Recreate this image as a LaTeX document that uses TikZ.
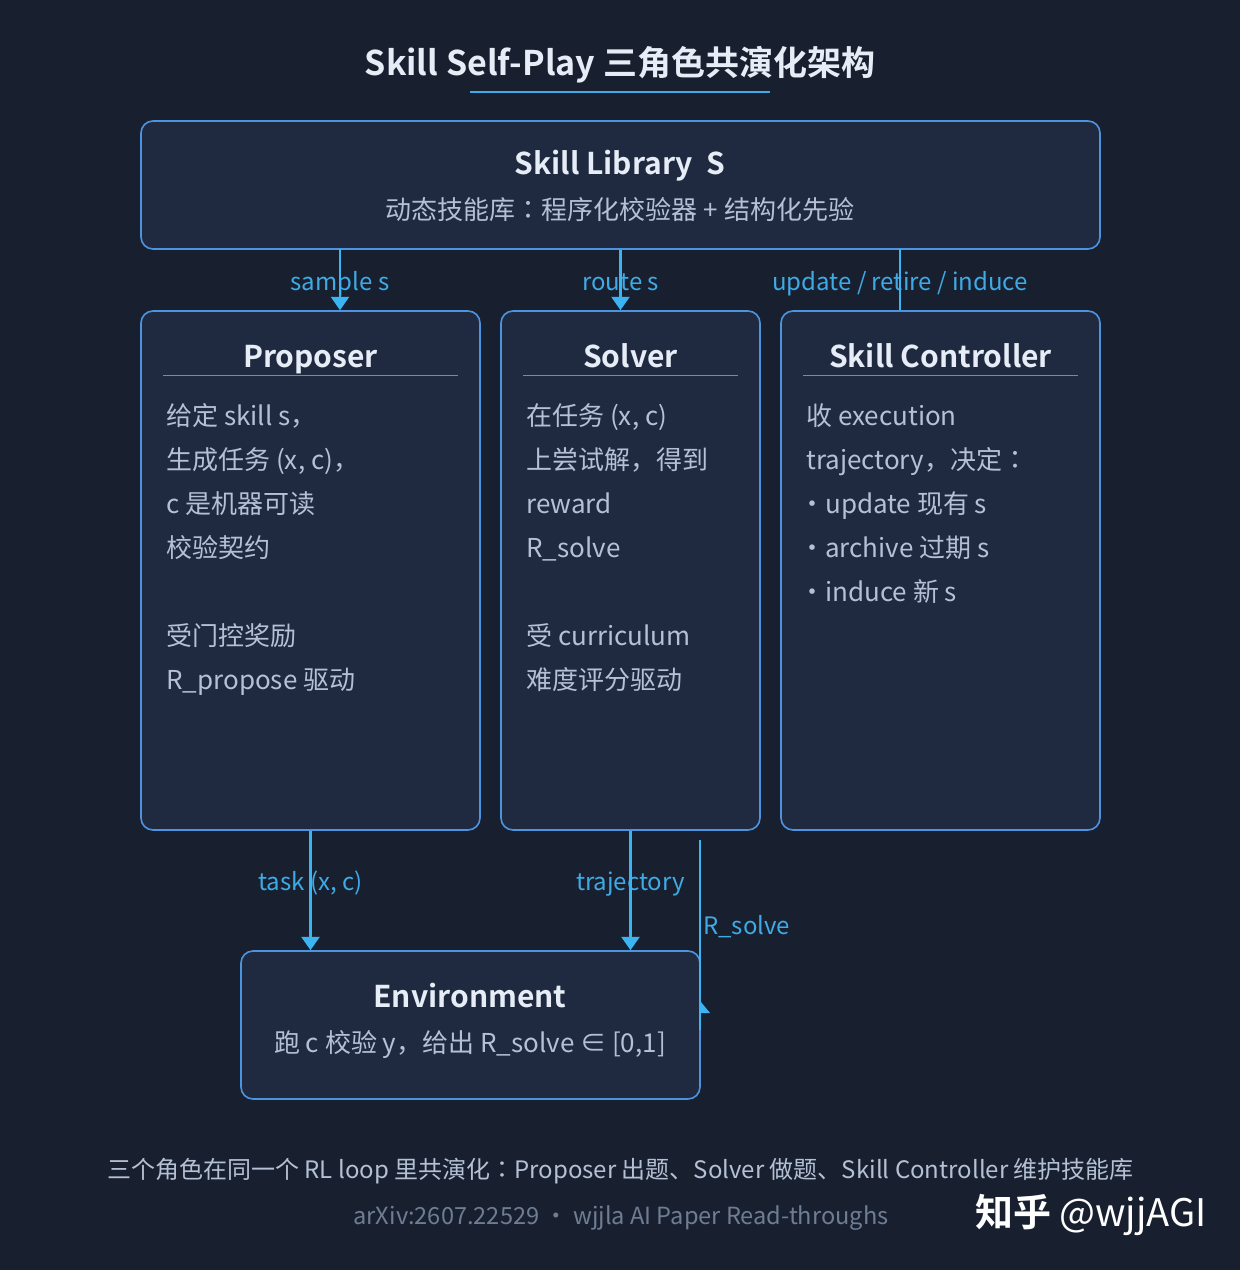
\documentclass[tikz,border=0pt]{standalone}
\usepackage{fontspec}
\setmainfont{Noto Sans CJK SC}[BoldFont={Noto Sans CJK SC Bold}]
\newfontfamily\jpfont{Noto Sans CJK JP}
\usetikzlibrary{arrows.meta,positioning}

\definecolor{bgc}{HTML}{18202F}
\definecolor{boxc}{HTML}{1F2A40}
\definecolor{edgec}{HTML}{4D94E0}
\definecolor{flowc}{HTML}{3AB4F2}
\definecolor{labc}{HTML}{3FAAE6}
\definecolor{headc}{HTML}{E6EDF7}
\definecolor{bodyc}{HTML}{B4C0D4}
\definecolor{footc}{HTML}{6F7D93}

\tikzset{
 block/.style={draw=edgec,fill=boxc,line width=1.2pt,rounded corners=9pt,inner sep=0pt},
 head/.style={text=headc,font=\bfseries\fontsize{22.5}{27}\selectfont,inner sep=0pt,anchor=base},
 sub/.style={text=bodyc,font=\fontsize{19.5}{24}\selectfont,inner sep=0pt,anchor=base},
 body/.style={text=bodyc,font=\fontsize{19.5}{33}\selectfont,align=left,anchor=base west,inner sep=0pt},
 rule/.style={draw=edgec,line width=0.8pt},
 flow/.style={draw=flowc,line width=1.6pt,-{Triangle[width=13.5pt,length=10pt]}},
 flowlabel/.style={text=labc,font=\fontsize{18}{22}\selectfont,inner sep=0pt,anchor=base},
}
\newcommand{\dotitem}{\kern-5.25pt·}
\newcommand{\jcolon}{{\jpfont ：}}

\begin{document}
\begin{tikzpicture}[x=0.75pt,y=-0.75pt]
\fill[bgc] (0,0) rectangle (1240,1270);
\useasboundingbox (0,0) rectangle (1240,1270);

% title
\node[text=headc,font=\bfseries\fontsize{25.5}{30}\selectfont,inner sep=0pt,anchor=base] (title) at (620,75) {Skill Self-Play 三角色共演化架构};
\draw[labc,line width=1.8pt] (470,92) -- (770,92);

% skill library
\node[block,minimum width=719.25pt,minimum height=96pt] (lib) at (620.5,185) {};
\node[head] (libt) at (620,174) {Skill Library~~S};
\node[sub] (libs) at (620,219) {动态技能库\jcolon 程序化校验器 + 结构化先验};

% three roles
\node[block,minimum width=254.25pt,minimum height=389.25pt] (prop) at (310.5,570.5) {};
\node[block,minimum width=194.25pt,minimum height=389.25pt] (solv) at (630.5,570.5) {};
\node[block,minimum width=239.25pt,minimum height=389.25pt] (ctrl) at (940.5,570.5) {};

\node[head] (propt) at (prop.north |- 0,367) {Proposer};
\node[head] (solvt) at (solv.north |- 0,367) {Solver};
\node[head] (ctrlt) at (ctrl.north |- 0,367) {Skill Controller};
\foreach \b in {prop,solv,ctrl}
  \draw[rule] ([shift={(17.25pt,-48.75pt)}]\b.north west) -- ([shift={(-17.25pt,-48.75pt)}]\b.north east);

% base of a multi-line node = its last line
\node[body] (propb) at (166,689) {给定 skill s，\\生成任务 (x, c)，\\c 是机器可读\\校验契约\\[33pt]受门控奖励\\R\_propose 驱动};
\node[body] (solvb) at (526,689) {在任务 (x, c)\\上尝试解，得到\\reward\\R\_solve\\[33pt]受 curriculum\\难度评分驱动};
\node[body] (ctrlb) at (806,601) {收 execution\\trajectory，决定\jcolon\\\dotitem update 现有 s\\\dotitem archive 过期 s\\\dotitem induce 新 s};

% environment
\node[block,minimum width=344.25pt,minimum height=111pt] (env) at (470.5,1025) {};
\node[head] (envt) at (470,1007) {Environment};
\node[sub] (envs) at (470,1052) {跑 c 校验 y，给出 R\_solve ∈ [0,1]};

% connectors
\coordinate (smp) at (340,249);
\coordinate (upd) at (900,249);
\coordinate (rsb) at (700,840);
\node[flowlabel] (smpl) at (smp |- 0,290) {sample s};
\node[flowlabel] (rtel) at (lib.south |- 0,290) {route s};
\node[flowlabel] (updl) at (upd |- 0,290) {update / retire / induce};
\node[flowlabel] (tskl) at (prop.south |- 0,890) {task (x, c)};
\node[flowlabel] (trjl) at (solv.south |- 0,890) {trajectory};
\node[flowlabel,anchor=base west] (rsl) at (703,934) {R\_solve};

\draw[flow] (smp) -- (smp |- prop.north);
\draw[flow] (lib.south) -- (lib.south |- solv.north);
\draw[flowc,line width=1.6pt] (upd) -- (upd |- ctrl.north);
\draw[flow] (prop.south) -- (prop.south |- env.north);
\draw[flow] (solv.south) -- (solv.south |- env.north);
\draw[flowc,line width=1.6pt] (rsb) -- (rsb |- 0,1030);
\fill[flowc] (701,1002) -- (710,1013) -- (701,1013) -- cycle;

% footer
\node[text=bodyc,font=\fontsize{18}{21}\selectfont,inner sep=0pt,anchor=base] (foot) at (620.5,1178) {三个角色在同一个 RL loop 里共演化\jcolon Proposer 出题、Solver 做题、Skill Controller 维护技能库};
\node[text=footc,font=\fontsize{17.7}{21}\selectfont,inner sep=0pt,anchor=base] (src) at (621,1224) {arXiv:2607.22529 · wjjla AI Paper Read-throughs};
\node[text=white,font=\fontsize{28.5}{32}\selectfont,inner sep=0pt,anchor=base west] (mark) at (975,1226) {\textbf{知乎} @wjjAGI};
\end{tikzpicture}
\end{document}
